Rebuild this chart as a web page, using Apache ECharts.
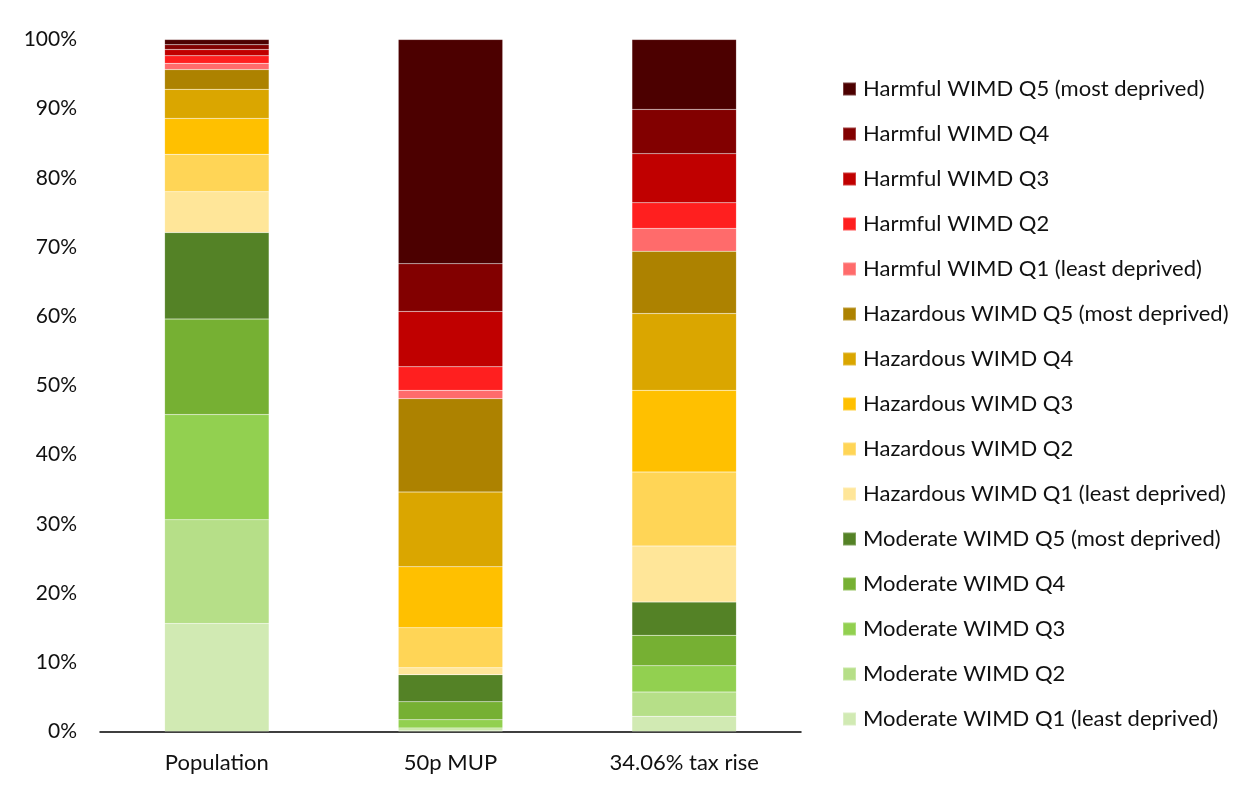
<!DOCTYPE html>
<html>
<head>
<meta charset="utf-8">
<script src="https://cdn.jsdelivr.net/npm/echarts@6/dist/echarts.min.js"></script>
<style>html,body{margin:0;padding:0;background:#fff}#c{width:1250px;height:786px}</style>
</head>
<body>
<div id="c"></div>
<script>
const categories = ['Population', '50p MUP', '34.06% tax rise'];
const seriesNames = [
  'Moderate WIMD Q1 (least deprived)',
  'Moderate WIMD Q2',
  'Moderate WIMD Q3',
  'Moderate WIMD Q4',
  'Moderate WIMD Q5 (most deprived)',
  'Hazardous WIMD Q1 (least deprived)',
  'Hazardous WIMD Q2',
  'Hazardous WIMD Q3',
  'Hazardous WIMD Q4',
  'Hazardous WIMD Q5 (most deprived)',
  'Harmful WIMD Q1 (least deprived)',
  'Harmful WIMD Q2',
  'Harmful WIMD Q3',
  'Harmful WIMD Q4',
  'Harmful WIMD Q5 (most deprived)'
];
const seriesColors = [
  '#D1EAB3', '#B6DF88', '#92D050', '#76B033', '#548226',
  '#FFE699', '#FFD556', '#FFC000', '#DAA600', '#AD8200',
  '#FF6B6B', '#FF1F1F', '#C00000', '#820000', '#4C0000'
];
// values in % for [Population, 50p MUP, 34.06% tax rise]
const modQ1 = [15.6, 0.2, 2.2];
const modQ2 = [15.0, 0.3, 3.5];
const modQ3 = [15.2, 1.2, 3.8];
const modQ4 = [13.8, 2.6, 4.4];
const modQ5 = [12.5, 3.9, 4.8];
const hazQ1 = [5.9, 1.0, 8.1];
const hazQ2 = [5.4, 5.8, 10.7];
const hazQ3 = [5.2, 8.8, 11.8];
const hazQ4 = [4.2, 10.8, 11.1];
const hazQ5 = [2.85, 13.5, 9.0];
const harmQ1 = [0.9, 1.2, 3.3];
const harmQ2 = [1.1, 3.4, 3.7];
const harmQ3 = [0.9, 8.0, 7.1];
const harmQ4 = [0.7, 6.9, 6.4];
const harmQ5 = [0.75, 32.4, 10.1];
const yTickLabels = ['0%','10%','20%','30%','40%','50%','60%','70%','80%','90%','100%'];

const allValues = [modQ1, modQ2, modQ3, modQ4, modQ5, hazQ1, hazQ2, hazQ3, hazQ4, hazQ5, harmQ1, harmQ2, harmQ3, harmQ4, harmQ5];

const series = seriesNames.map((n, i) => ({
  name: n,
  type: 'bar',
  stack: 'total',
  barWidth: '44.7%',
  data: allValues[i],
  itemStyle: { color: seriesColors[i], borderColor: 'rgba(255,255,255,0.25)', borderWidth: 0.5 },
  emphasis: { disabled: true }
}));

const chart = echarts.init(document.getElementById('c'), null, { renderer: 'canvas' });
chart.setOption({
  animation: false,
  textStyle: { fontFamily: 'Lato, "Open Sans", sans-serif' },
  grid: { left: 100, right: 449, top: 39.5, bottom: 54.5, containLabel: false },
  xAxis: {
    type: 'category',
    data: categories,
    axisLine: { show: true, lineStyle: { color: '#000', width: 1.5 } },
    axisTick: { show: false },
    axisLabel: { color: '#111', fontSize: 22, margin: 20, fontFamily: 'Lato, sans-serif' }
  },
  yAxis: {
    type: 'value',
    min: 0, max: 100, interval: 10,
    axisLine: { show: false },
    axisTick: { show: false },
    splitLine: { show: false },
    axisLabel: {
      color: '#111', fontSize: 21, margin: 23, fontFamily: 'Lato, sans-serif',
      formatter: (v) => yTickLabels[Math.round(v / 10)]
    }
  },
  legend: {
    orient: 'vertical',
    left: 837,
    top: 73,
    itemWidth: 13,
    itemHeight: 13,
    itemGap: 23,
    icon: 'rect',
    data: seriesNames.slice().reverse(),
    textStyle: { color: '#111', fontSize: 22, fontFamily: 'Lato, sans-serif', padding: [0, 0, 0, 2] },
    selectedMode: false
  },
  series: series
});
</script>
</body>
</html>
